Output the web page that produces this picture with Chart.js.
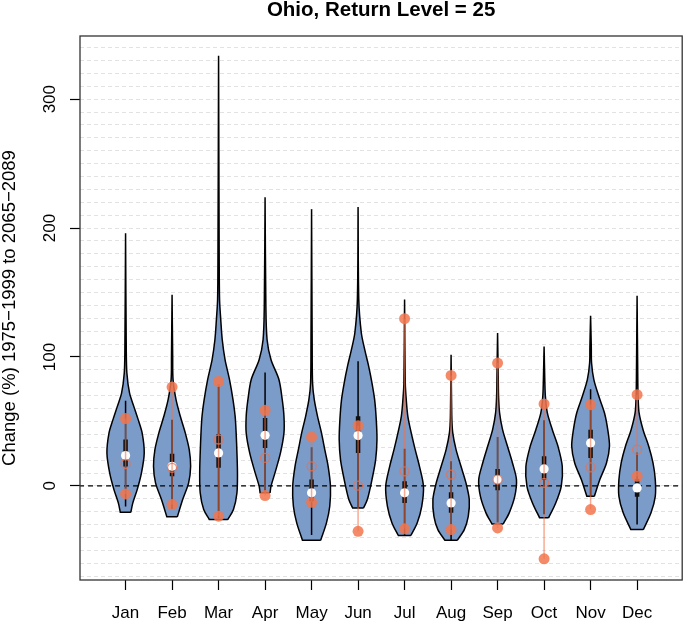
<!DOCTYPE html>
<html>
<head>
<meta charset="utf-8">
<script src="https://cdn.jsdelivr.net/npm/chart.js@4.4.0/dist/chart.umd.min.js"></script>
<style>
html,body{margin:0;padding:0;background:#fff;}
#wrap{width:688px;height:622px;}
</style>
</head>
<body>
<div id="wrap"><canvas id="c" width="688" height="622"></canvas></div>
<script>
const chartTitle = 'Ohio, Return Level = 25';
const yTitle = 'Change (%) 1975\u22121999 to 2065\u22122089';
const months = ['Jan','Feb','Mar','Apr','May','Jun','Jul','Aug','Sep','Oct','Nov','Dec'];
const yTickLabels = [0, 100, 200, 300];

// violin outlines: levels (y) and half-widths (in category units)
const violinLevels = [
  [-20.5, -13.2, -2.9, 10.1, 25.6, 41.1, 51.4, 61.7, 72.1, 87.6, 105.7, 196],
  [-24, -10.6, 2.3, 15.2, 28.1, 41.1, 54, 66.9, 82.4, 100, 148.3],
  [-26.1, -18.4, -5.4, 10.1, 25.6, 41.1, 54, 66.9, 82.4, 97.9, 113.4, 128.9, 144.6, 180, 333.6],
  [-5.4, -0.2, 10.1, 25.6, 41.1, 54, 66.9, 82.4, 97.9, 113.4, 140, 224],
  [-42.2, -28.7, -15.8, -0.3, 15.2, 28.1, 41.1, 54, 66.9, 79.8, 110, 214.7],
  [-17.1, -10.6, 4.9, 20.4, 35.9, 51.4, 66.9, 79.8, 92.7, 105.7, 118.6, 144.6, 216.3],
  [-38.5, -28.7, -15.8, -0.3, 15.2, 28.1, 41.1, 54, 66.9, 79.8, 144.6],
  [-42.2, -33.9, -23.6, -10.6, 2.3, 15.2, 28.1, 41.1, 54, 101.8],
  [-29.5, -20.9, -8.1, 4.9, 17.8, 30.7, 43.6, 56.6, 69.5, 82.4, 118.6],
  [-24.8, -13.2, -0.3, 15.2, 30.7, 43.6, 56.6, 69.5, 82.4, 108.2],
  [-8.1, 4.9, 17.8, 30.7, 43.6, 56.6, 69.5, 82.4, 95.3, 108.2, 132],
  [-33.9, -20.9, -8.1, 4.9, 17.8, 30.7, 43.6, 56.6, 69.5, 82.4, 147.5]
];
const violinHalfWidths = [
  [0.113, 0.156, 0.25, 0.342, 0.401, 0.356, 0.271, 0.177, 0.085, 0.028, 0.015, 0],
  [0.113, 0.228, 0.356, 0.399, 0.369, 0.284, 0.177, 0.085, 0.021, 0.013, 0],
  [0.199, 0.32, 0.395, 0.406, 0.395, 0.378, 0.356, 0.31, 0.235, 0.139, 0.079, 0.047, 0.021, 0.013, 0],
  [0.107, 0.128, 0.213, 0.331, 0.406, 0.406, 0.369, 0.299, 0.128, 0.043, 0.017, 0],
  [0.196, 0.32, 0.391, 0.406, 0.356, 0.284, 0.213, 0.128, 0.058, 0.021, 0.013, 0],
  [0.117, 0.199, 0.299, 0.378, 0.406, 0.391, 0.356, 0.299, 0.228, 0.143, 0.07, 0.015, 0],
  [0.134, 0.271, 0.369, 0.406, 0.32, 0.228, 0.143, 0.07, 0.036, 0.015, 0],
  [0.132, 0.284, 0.369, 0.391, 0.32, 0.213, 0.107, 0.036, 0.015, 0],
  [0.122, 0.25, 0.369, 0.406, 0.32, 0.213, 0.107, 0.043, 0.021, 0.015, 0],
  [0.096, 0.25, 0.369, 0.391, 0.299, 0.177, 0.07, 0.028, 0.015, 0],
  [0.081, 0.199, 0.342, 0.406, 0.369, 0.299, 0.177, 0.07, 0.021, 0.015, 0],
  [0.134, 0.299, 0.391, 0.391, 0.342, 0.25, 0.128, 0.043, 0.021, 0.015, 0]
];

// box plot statistics
const boxQ1 = [15, 7.5, 14, 29.4, -11.9, 25.6, -13.2, -20.9, -3.4, 4.9, 21.7, -8.5];
const boxQ3 = [36, 25, 40, 52.7, 4.9, 54, 3.6, -4.9, 13.2, 23, 43.6, 5.4];
const medians = [23.5, 15.2, 25.6, 39.2, -5.4, 39, -5.4, -13.2, 4.9, 13.2, 33.3, -1.6];
const whiskerLow = [-16, -18, -25, -5.4, -38, -17, -38.4, -42, -28.3, -22, -8, -30];
const whiskerHigh = [66, 51.4, 79, 88, 30, 96.6, 28.8, 19.1, 38, 51, 75, 26];

// orange markers
const obsLow = [-6.2, -14.5, -23.5, -7.5, -12.7, -35.2, -33.3, -33.9, -32.6, -56.6, -18.4, 7.4];
const obsHigh = [52.2, 76.7, 81, 58.6, 38, 46.7, 129.7, 85.7, 95.3, 63.6, 63, 70.8];
const obsMid = [17, 14, 36, 21.7, 15.2, 0.2, 11.3, 8.8, 4.9, 2.3, 14.4, 28.1];

const FONT = "'Liberation Sans', Arial, Helvetica, sans-serif";

function violinShape(i) {
  const m = i + 1, ys = violinLevels[i], ws = violinHalfWidths[i];
  const pts = [];
  for (let k = 0; k < ys.length; k++) pts.push({x: m + ws[k], y: ys[k]});
  for (let k = ys.length - 1; k >= 0; k--) pts.push({x: m - ws[k], y: ys[k]});
  // repeat the bottom corners so the flat bottom stays straight
  pts.push({x: m - ws[0], y: ys[0]});
  pts.push({x: m + ws[0], y: ys[0]});
  pts.push({x: m + ws[0], y: ys[0]});
  return pts;
}
function segments(lo, hi) {
  const d = [];
  months.forEach((_, i) => {
    d.push({x: i + 1, y: lo[i]}, {x: i + 1, y: hi[i]}, {x: i + 1, y: null});
  });
  return d;
}
function pointsAt(vals) { return vals.map((v, i) => ({x: i + 1, y: v})); }

const datasets = [];
months.forEach((m, i) => {
  datasets.push({
    label: 'violin ' + m, data: violinShape(i), showLine: true, fill: 'shape',
    backgroundColor: '#7b9bc8', borderColor: '#000', borderWidth: 1.5,
    pointRadius: 0, pointHitRadius: 0, tension: 0.3, order: 10
  });
});
datasets.push({
  label: 'zero', data: [{x: 0, y: 0}, {x: 13, y: 0}], showLine: true,
  borderColor: '#000', borderWidth: 1.3, borderDash: [5, 4], pointRadius: 0, order: 9
});
datasets.push({
  label: 'whisker', data: segments(whiskerLow, whiskerHigh), showLine: true, spanGaps: false,
  borderColor: '#000', borderWidth: 1.5, pointRadius: 0, order: 8
});
datasets.push({
  label: 'box', data: segments(boxQ1, boxQ3), showLine: true, spanGaps: false,
  borderColor: '#111', borderWidth: 4.5, borderCapStyle: 'butt', pointRadius: 0, order: 7
});
datasets.push({
  label: 'median', data: pointsAt(medians), showLine: false,
  pointRadius: 4.6, pointBackgroundColor: '#fff', pointBorderWidth: 0, order: 6
});
datasets.push({
  label: 'range', data: segments(obsLow, obsHigh), showLine: true, spanGaps: false,
  borderColor: 'rgba(240,115,75,0.6)', borderWidth: 1.5, pointRadius: 0, order: 5
});
datasets.push({
  label: 'obs', data: pointsAt(obsLow).concat(pointsAt(obsHigh)), showLine: false,
  pointRadius: 5.5, pointBackgroundColor: 'rgba(242,118,78,0.85)', pointBorderWidth: 0, order: 4
});
datasets.push({
  label: 'mid', data: pointsAt(obsMid), showLine: false,
  pointRadius: 4.5, pointBackgroundColor: 'rgba(0,0,0,0)', pointBorderColor: 'rgba(232,112,80,0.8)',
  pointBorderWidth: 1.3, order: 3
});

const boxPlugin = {
  id: 'plotBox',
  afterDraw(chart) {
    const a = chart.chartArea, ctx = chart.ctx;
    ctx.save();
    ctx.strokeStyle = '#333';
    ctx.lineWidth = 1.3;
    ctx.strokeRect(a.left, a.top, a.right - a.left, a.bottom - a.top);
    ctx.restore();
  }
};

new Chart(document.getElementById('c'), {
  type: 'scatter',
  data: {datasets},
  options: {
    responsive: false, animation: false, devicePixelRatio: 1,
    layout: {padding: {left: 0, right: 1, top: 0, bottom: 0}},
    plugins: {legend: {display: false}, tooltip: {enabled: false}, title: {display: false}},
    scales: {
      x: {
        type: 'linear', position: 'bottom', min: 0.02, max: 12.97,
        afterBuildTicks: (s) => { s.ticks = months.map((_, i) => ({value: i + 1})); },
        afterFit: (s) => { s.height = 42; },
        ticks: {
          autoSkip: false, maxRotation: 0, minRotation: 0, padding: 13,
          color: '#000', font: {family: FONT, size: 17},
          callback: (v) => months[Math.round(v) - 1] || ''
        },
        grid: {drawOnChartArea: false, drawTicks: true, tickLength: 10, tickColor: '#000', tickWidth: 1.2},
        border: {display: false}
      },
      xTop: {
        type: 'linear', position: 'top', min: 0, max: 1,
        afterFit: (s) => { s.height = 36; },
        ticks: {display: false},
        grid: {display: false},
        border: {display: false},
        title: {display: true, text: chartTitle, color: '#000',
          font: {family: FONT, size: 20.5, weight: 'bold', lineHeight: 1}, padding: {top: 0, bottom: 0}}
      },
      y: {
        type: 'linear', min: -73, max: 349,
        afterFit: (s) => { s.width = 80; },
        ticks: {
          stepSize: 10, includeBounds: false, autoSkip: false,
          minRotation: 90, maxRotation: 90, crossAlign: 'center', padding: 6,
          color: '#000', font: {family: FONT, size: 17},
          callback: (v) => yTickLabels.includes(v) ? String(v) : ''
        },
        grid: {
          color: '#e2e2e2', lineWidth: 1, drawTicks: true, tickLength: 10, tickWidth: 1.2,
          tickColor: (ctx) => (ctx.tick && yTickLabels.includes(ctx.tick.value)) ? '#000' : 'rgba(0,0,0,0)'
        },
        border: {display: false, dash: [4, 3]},
        title: {display: true, text: yTitle, color: '#000',
          font: {family: FONT, size: 18.5, lineHeight: 1.1}, padding: {top: 0, bottom: 0}}
      }
    }
  },
  plugins: [boxPlugin]
});
</script>
</body>
</html>
